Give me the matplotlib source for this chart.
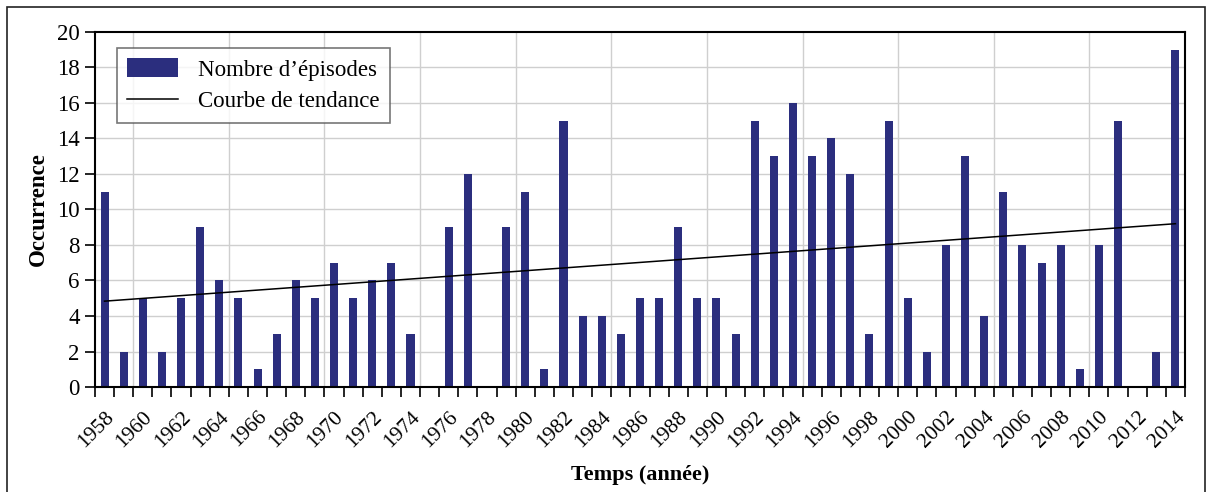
import numpy as np
import matplotlib
matplotlib.use("Agg")
import matplotlib.pyplot as plt
from matplotlib.patches import Rectangle

years = list(range(1958, 2015))
episodes = [11, 2, 5, 2, 5, 9, 6, 5, 1, 3,
            6, 5, 7, 5, 6, 7, 3, 0, 9, 12,
            0, 9, 11, 1, 15, 4, 4, 3, 5, 5,
            9, 5, 5, 3, 15, 13, 16, 13, 14, 12,
            3, 15, 5, 2, 8, 13, 4, 11, 8, 7,
            8, 1, 8, 15, 0, 2, 19]
tick_years = years[::2]

bar_color = "#2b2e7e"

plt.rcParams['font.family'] = ['Liberation Serif', 'DejaVu Serif']

fig = plt.figure(figsize=(12.13, 4.92), dpi=100)
ax = fig.add_axes([0.0783, 0.2134, 0.8986, 0.7216])

x = np.arange(len(years))
bars = ax.bar(x, episodes, width=0.42, color=bar_color, zorder=3)

# courbe de tendance (regression lineaire, comme dans Excel)
a, b = np.polyfit(x, episodes, 1)
trend, = ax.plot(x[[0, -1]], a * x[[0, -1]] + b, color="black", lw=1.1, zorder=4)

ax.set_xlim(-0.5, len(years) - 0.5)
ax.set_ylim(0, 20)
ax.set_yticks(range(0, 21, 2))
ax.tick_params(axis='y', labelsize=16.5, direction='out', length=7, width=1.2, pad=4)

# graduations entre les categories
ax.set_xticks(np.arange(len(years) + 1) - 0.5)
ax.set_xticklabels([])
ax.tick_params(axis='x', direction='out', length=7, width=1.2)
for yr in tick_years:
    i = years.index(yr)
    ax.text(i + 0.0, -1.15, str(yr), rotation=45, ha='right', va='top',
            rotation_mode='anchor', fontsize=15.5)

# quadrillage
for yv in range(2, 20, 2):
    ax.axhline(yv, color="#cfcfcf", lw=1, zorder=1)
for xv in np.arange(1.5, len(years), 5):
    ax.axvline(xv, color="#cfcfcf", lw=1, zorder=1)

for s in ax.spines.values():
    s.set_linewidth(1.5)
    s.set_zorder(5)

ax.set_ylabel("Occurrence", fontsize=16.5, fontweight='bold', labelpad=6)
fig.text(0.528, 0.035, "Temps (année)", fontsize=16, fontweight='bold',
         ha='center', va='center')

leg = ax.legend([bars, trend], ["Nombre d\u2019épisodes", "Courbe de tendance"],
                loc='upper left', bbox_to_anchor=(0.02, 0.955), fontsize=16.5,
                frameon=True, fancybox=False, edgecolor="#555555",
                handlelength=2.2, handleheight=0.9, handletextpad=0.9,
                borderpad=0.45, labelspacing=0.4, borderaxespad=0)
leg.get_frame().set_linewidth(1.2)
leg.set_zorder(6)

# cadre autour de la figure
fig.patches.append(Rectangle((7 / 1213, -0.05), 1198 / 1213, 1.05 - 7 / 492,
                             transform=fig.transFigure, fill=False,
                             edgecolor="#222222", lw=1.2))

fig.savefig("out.png", dpi=100)
